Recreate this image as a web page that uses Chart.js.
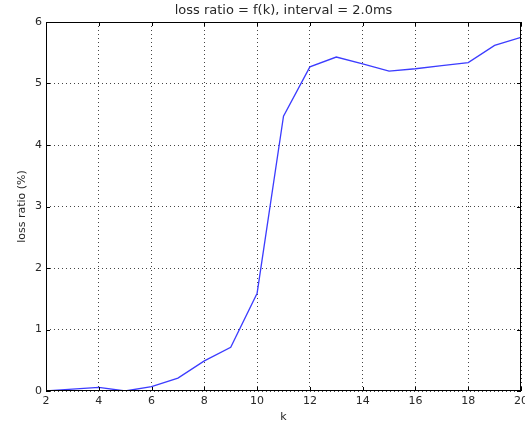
<!DOCTYPE html>
<html>
<head>
<meta charset="utf-8">
<script src="https://cdn.jsdelivr.net/npm/chart.js@4/dist/chart.umd.min.js"></script>
<style>
  html, body { margin: 0; padding: 0; background: #fff; }
  #wrap { width: 525px; height: 425px; }
</style>
</head>
<body>
<div id="wrap"><canvas id="chart" width="525" height="425"></canvas></div>
<script>
// data
const kValues = [2, 3, 4, 5, 6, 7, 8, 9, 10, 11, 12, 13, 14, 15, 16, 17, 18, 19, 20];
const lossRatio = [0.0, 0.03, 0.06, 0.0, 0.07, 0.21, 0.49, 0.71, 1.59, 4.47, 5.27, 5.43, 5.32, 5.2, 5.24, 5.29, 5.34, 5.62, 5.75];
const titleText = 'loss ratio = f(k), interval = 2.0ms';
const xLabel = 'k';
const yLabel = 'loss ratio (%)';

const font = 'DejaVu Sans';
const textColor = '#262626';

// frame, inward ticks on all four sides, titles
const mplDecor = {
    id: 'mplDecor',
    afterDraw(chart) {
        const ctx = chart.ctx;
        const a = chart.chartArea;
        const xs = chart.scales.x, ys = chart.scales.y;
        ctx.save();
        ctx.strokeStyle = '#000';
        ctx.lineWidth = 1;
        ctx.strokeRect(Math.round(a.left) + 0.5, Math.round(a.top) + 0.5,
            Math.round(a.right - a.left) - 1, Math.round(a.bottom - a.top) - 1);
        ctx.beginPath();
        xs.ticks.forEach(t => {
            const x = Math.round(xs.getPixelForValue(t.value)) + 0.5;
            ctx.moveTo(x, a.bottom); ctx.lineTo(x, a.bottom - 4);
            ctx.moveTo(x, a.top); ctx.lineTo(x, a.top + 4);
        });
        ys.ticks.forEach(t => {
            const y = Math.round(ys.getPixelForValue(t.value)) + 0.5;
            ctx.moveTo(a.left, y); ctx.lineTo(a.left + 4, y);
            ctx.moveTo(a.right, y); ctx.lineTo(a.right - 4, y);
        });
        ctx.stroke();

        ctx.fillStyle = textColor;
        ctx.textAlign = 'center';
        ctx.textBaseline = 'middle';
        const cx = (a.left + a.right) / 2;
        ctx.font = '13px "' + font + '"';
        ctx.fillText(titleText, cx, 11);
        ctx.font = '11px "' + font + '"';
        ctx.fillText(xLabel, cx, 417);
        ctx.translate(22, (a.top + a.bottom) / 2);
        ctx.rotate(-Math.PI / 2);
        ctx.fillText(yLabel, 0, 0);
        ctx.restore();
    }
};

new Chart(document.getElementById('chart').getContext('2d'), {
    type: 'line',
    data: {
        datasets: [{
            data: kValues.map((k, i) => ({ x: k, y: lossRatio[i] })),
            borderColor: 'rgb(60, 60, 255)',
            borderWidth: 1.3,
            pointRadius: 0,
            tension: 0,
            fill: false
        }]
    },
    options: {
        responsive: false,
        animation: false,
        devicePixelRatio: 1,
        layout: { padding: { top: 22, right: 4, left: 0, bottom: 0 } },
        plugins: {
            legend: { display: false },
            title: { display: false },
            tooltip: { enabled: false }
        },
        scales: {
            x: {
                type: 'linear',
                min: 2, max: 20,
                afterFit: s => { s.height = 34; s.paddingLeft = 0; s.paddingRight = 0; },
                ticks: { stepSize: 2, padding: 4, color: textColor, font: { family: font, size: 11 } },
                grid: { color: '#444', lineWidth: 1, drawTicks: false },
                border: { display: false, dash: [1, 3] }
            },
            y: {
                min: 0, max: 6,
                afterFit: s => { s.width = 46; s.paddingTop = 0; s.paddingBottom = 0; },
                ticks: { stepSize: 1, padding: 4, color: textColor, font: { family: font, size: 11 } },
                grid: { color: '#444', lineWidth: 1, drawTicks: false },
                border: { display: false, dash: [1, 3] }
            }
        }
    },
    plugins: [mplDecor]
});
</script>
</body>
</html>
